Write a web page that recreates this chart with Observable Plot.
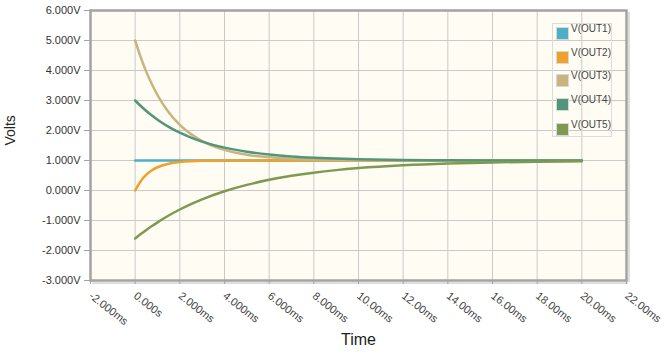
<!DOCTYPE html>
<html>
<head>
<meta charset="utf-8">
<script src="https://cdn.jsdelivr.net/npm/d3@7"></script>
<script src="https://cdn.jsdelivr.net/npm/@observablehq/plot@0.6"></script>
<style>
  body { margin: 0; background: #fff; }
  #wrap { position: relative; width: 664px; height: 359px; font-family: "Liberation Sans", Arial, sans-serif; }
  #legend { position: absolute; left: 552px; top: 23px; width: 60px; height: 114px; border: 1px solid #dcdcdc; box-sizing: border-box; }
  .item { position: absolute; left: 3px; height: 12px; font-size: 10px; color: #444; white-space: nowrap; }
  .sw { position: absolute; left: 0; top: 0; width: 11px; height: 11px; border: 1px solid #d8d8d8; box-sizing: content-box; }
  .lb { position: absolute; left: 15px; top: -4px; }
</style>
</head>
<body>
<div id="wrap"><div id="legend"></div></div>
<script>
const seriesNames = ["V(OUT1)", "V(OUT2)", "V(OUT3)", "V(OUT4)", "V(OUT5)"];
const seriesColors = ["#4bafc6", "#eea12c", "#c9b47f", "#51967a", "#7e9a51"];
const timeMs = [0, 0.25, 0.5, 0.75, 1, 1.5, 2, 2.5, 3, 4, 5, 6, 7, 8, 9, 10, 12, 14, 16, 18, 20];
const out1 = [1, 1, 1, 1, 1, 1, 1, 1, 1, 1, 1, 1, 1, 1, 1, 1, 1, 1, 1, 1, 1];
const out2 = [0, 0.31, 0.526, 0.673, 0.775, 0.893, 0.95, 0.976, 0.989, 0.997, 0.999, 1, 1, 1, 1, 1, 1, 1, 1, 1, 1];
const out3 = [5, 4.438, 3.954, 3.539, 3.182, 2.612, 2.19, 1.879, 1.649, 1.354, 1.193, 1.105, 1.057, 1.031, 1.017, 1.009, 1.003, 1.001, 1, 1, 1];
const out4 = [3, 2.817, 2.65, 2.499, 2.361, 2.123, 1.927, 1.765, 1.631, 1.429, 1.292, 1.199, 1.135, 1.092, 1.063, 1.043, 1.02, 1.009, 1.004, 1.002, 1.001];
const out5 = [-1.6, -1.453, -1.315, -1.184, -1.061, -0.834, -0.633, -0.454, -0.294, -0.026, 0.187, 0.356, 0.489, 0.595, 0.679, 0.746, 0.84, 0.9, 0.937, 0.96, 0.975];
const xTicks = [-2, 0, 2, 4, 6, 8, 10, 12, 14, 16, 18, 20, 22];
const yTicks = [-3, -2, -1, 0, 1, 2, 3, 4, 5, 6];
const xLabel = "Time";
const yLabel = "Volts";

const allSeries = [out1, out2, out3, out4, out5];
const data = [];
allSeries.forEach((vals, i) => vals.forEach((v, j) => data.push({series: seriesNames[i], t: timeMs[j], v})));

const fmtX = d => d === 0 ? "0.000s" : (Math.abs(d) >= 10 ? d.toFixed(2) : d.toFixed(3)) + "ms";
const fmtY = d => d.toFixed(3) + "V";

const chart = Plot.plot({
  width: 664, height: 359,
  marginLeft: 90, marginRight: 38, marginTop: 10, marginBottom: 79,
  style: {background: "transparent", fontFamily: "Liberation Sans, Arial, sans-serif", color: "#333", overflow: "visible"},
  x: {domain: [-2, 22]},
  y: {domain: [-3, 6]},
  color: {domain: seriesNames, range: seriesColors},
  marks: [
    Plot.frame({fill: "#fffcf3", stroke: null}),
    Plot.gridX(xTicks, {stroke: "#cacaca", strokeOpacity: 1}),
    Plot.gridY(yTicks, {stroke: "#cacaca", strokeOpacity: 1}),
    Plot.line(data, {x: "t", y: "v", z: "series", stroke: "series", strokeWidth: 2.5, curve: "monotone-x"}),
    Plot.ruleX([22], {stroke: "#dedede", strokeWidth: 2, dx: 2.5, dy: 2}),
    Plot.ruleY([-3], {stroke: "#dedede", strokeWidth: 2, dx: 2, dy: 2.5}),
    Plot.frame({stroke: "#a3a3a3", strokeWidth: 2.5}),
    Plot.axisY(yTicks, {tickFormat: fmtY, tickSize: 6, tickPadding: 4, fontSize: 11, stroke: "#a3a3a3", fill: "#333", label: null}),
    Plot.axisX(xTicks, {tickFormat: fmtX, tickSize: 4, tickPadding: 10, tickRotate: 38, fontSize: 11, stroke: "#a3a3a3", fill: "#444", label: null}),
    Plot.text([yLabel], {frameAnchor: "left", dx: -80, rotate: -90, fontSize: 14, fill: "#222"}),
    Plot.text([xLabel], {frameAnchor: "bottom", dy: 64, fontSize: 16, fill: "#222"})
  ]
});
document.getElementById("wrap").prepend(chart);

const legend = document.getElementById("legend");
const legendTops = [3, 27, 50, 74, 99];
seriesNames.forEach((name, i) => {
  const item = document.createElement("div");
  item.className = "item";
  item.style.top = legendTops[i] + "px";
  item.innerHTML = `<div class="sw" style="background:${seriesColors[i]}"></div><div class="lb">${name}</div>`;
  legend.appendChild(item);
});
</script>
</body>
</html>
